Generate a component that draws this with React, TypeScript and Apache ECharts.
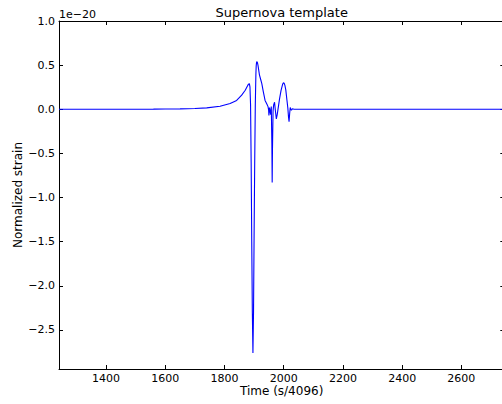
import React, { useEffect, useRef } from "react";
import * as echarts from "echarts";

// Time axis samples (s/4096)
const time = [
  1241, 1400, 1500, 1560, 1600, 1650, 1700, 1740, 1785, 1819,
  1841, 1858, 1870, 1877, 1881, 1884, 1886, 1888, 1890, 1892,
  1894, 1896, 1898, 1900, 1902, 1904, 1906, 1907, 1908, 1909,
  1910, 1911, 1913, 1918, 1922, 1926, 1931, 1937, 1943, 1947,
  1949, 1950, 1952, 1954, 1956, 1958, 1960, 1961, 1962, 1964,
  1966, 1969, 1972, 1975, 1978, 1982, 1986, 1991, 1996, 1998,
  2000, 2002, 2004, 2007, 2011, 2014, 2016, 2018, 2020, 2022,
  2024, 2026, 2029, 2035, 2745,
];

// Normalized strain (units of 1e-20)
const strain = [
  0, 0, 0.001, 0.002, 0.003, 0.005, 0.009, 0.016, 0.034, 0.065,
  0.1, 0.16, 0.215, 0.26, 0.285, 0.29, 0.25, 0.05, -0.6, -1.5,
  -2.3, -2.76, -2.3, -1.4, -0.6, 0.05, 0.4, 0.49, 0.525, 0.54,
  0.538, 0.53, 0.5, 0.39, 0.34, 0.29, 0.2, 0.1, 0.06, 0.03,
  -0.01, -0.07, 0.02, -0.02, -0.06, 0.03, -0.4, -0.83, -0.45, -0.02,
  0.05, 0.08, -0.02, -0.11, -0.06, 0.03, 0.12, 0.215, 0.28, 0.295,
  0.3, 0.29, 0.27, 0.22, 0.1, 0.01, -0.08, -0.14, -0.05, 0.02,
  0.0, -0.01, 0.005, 0, 0,
];

const xTicks = [1400, 1600, 1800, 2000, 2200, 2400, 2600];
const yTicks = [-2.5, -2.0, -1.5, -1.0, -0.5, 0.0, 0.5, 1.0];

const X_MIN = 1241;
const X_MAX = 2745;
const Y_MIN = -2.942;
const Y_MAX = 1.0;

const FONT = "DejaVu Sans";

const fmtY = (v: number) => {
  const s = Math.abs(v).toFixed(1);
  return v < -1e-9 ? "\u2212" + s : s;
};

export default function App() {
  const ref = useRef<HTMLDivElement>(null);

  useEffect(() => {
    if (!ref.current) return;
    const chart = echarts.init(ref.current, null, { renderer: "svg" });

    const axisLine = { show: true, onZero: false, lineStyle: { color: "#000", width: 1 } };
    const tickX = { show: true, inside: true, length: 4, customValues: xTicks, lineStyle: { color: "#000" } };
    const tickY = { show: true, inside: true, length: 4, customValues: yTicks, lineStyle: { color: "#000" } };

    const gridLeft = 59;
    const gridTop = 21;
    const gridW = 445.3;
    const gridH = 348;
    const cx = gridLeft + gridW / 2;

    chart.setOption({
      animation: false,
      backgroundColor: "#fff",
      grid: { left: gridLeft, top: gridTop, width: gridW, height: gridH, containLabel: false },
      xAxis: [
        {
          type: "value",
          position: "bottom",
          min: X_MIN,
          max: X_MAX,
          axisLine,
          axisTick: tickX,
          splitLine: { show: false },
          axisLabel: {
            customValues: xTicks,
            formatter: (v: number) => String(v),
            fontFamily: FONT,
            fontSize: 11,
            color: "#000",
            margin: 4,
          },
        },
        {
          type: "value",
          position: "top",
          min: X_MIN,
          max: X_MAX,
          axisLine,
          axisTick: tickX,
          splitLine: { show: false },
          axisLabel: { show: false },
        },
      ],
      yAxis: [
        {
          type: "value",
          position: "left",
          min: Y_MIN,
          max: Y_MAX,
          axisLine,
          axisTick: tickY,
          splitLine: { show: false },
          axisLabel: {
            customValues: yTicks,
            formatter: fmtY,
            fontFamily: FONT,
            fontSize: 11,
            color: "#000",
            margin: 4,
          },
        },
        {
          type: "value",
          position: "right",
          min: Y_MIN,
          max: Y_MAX,
          axisLine,
          axisTick: tickY,
          splitLine: { show: false },
          axisLabel: { show: false },
        },
      ],
      series: [
        {
          type: "line",
          xAxisIndex: 0,
          yAxisIndex: 0,
          data: time.map((t, i) => [t, strain[i]]),
          showSymbol: false,
          symbol: "none",
          lineStyle: { color: "#0000ff", width: 1.1 },
          clip: true,
        },
      ],
      graphic: [
        {
          type: "text",
          x: cx,
          y: 12,
          style: {
            text: "Supernova template",
            fontFamily: FONT,
            fontSize: 13,
            fill: "#000",
            textAlign: "center",
            textVerticalAlign: "middle",
          },
        },
        {
          type: "text",
          x: 59,
          y: 14.5,
          style: {
            text: "1e\u221220",
            fontFamily: FONT,
            fontSize: 11,
            fill: "#000",
            textAlign: "left",
            textVerticalAlign: "middle",
          },
        },
        {
          type: "text",
          x: cx,
          y: 390.5,
          style: {
            text: "Time (s/4096)",
            fontFamily: FONT,
            fontSize: 12,
            fill: "#000",
            textAlign: "center",
            textVerticalAlign: "middle",
          },
        },
        {
          type: "text",
          x: 18,
          y: gridTop + gridH / 2,
          rotation: Math.PI / 2,
          style: {
            text: "Normalized strain",
            fontFamily: FONT,
            fontSize: 12,
            fill: "#000",
            textAlign: "center",
            textVerticalAlign: "middle",
          },
        },
      ],
    });

    return () => {
      chart.dispose();
    };
  }, []);

  return (
    <div
      ref={ref}
      style={{ position: "fixed", left: 0, top: 0, width: 510, height: 404 }}
    />
  );
}
